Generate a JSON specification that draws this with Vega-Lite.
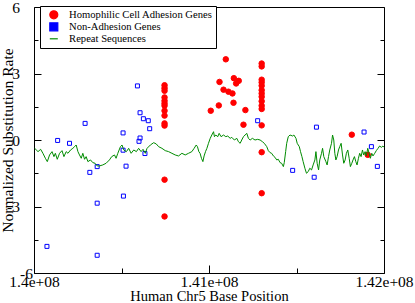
{
  "$schema": "https://vega.github.io/schema/vega-lite/v6.json",
  "autosize": "none",
  "width": 350,
  "height": 266,
  "padding": {"left": 34, "top": 7, "right": 31, "bottom": 30},
  "background": "white",
  "config": {
    "view": {"stroke": "black", "strokeWidth": 1},
    "font": "Liberation Serif"
  },
  "datasets": {
    "adhesion": [
      {"pos": 140746000, "rate": 2.47}, {"pos": 140746000, "rate": 2.34}, {"pos": 140746000, "rate": 2.22},
      {"pos": 140746000, "rate": 1.92}, {"pos": 140746000, "rate": 1.77}, {"pos": 140746000, "rate": 1.65},
      {"pos": 140746000, "rate": 1.55}, {"pos": 140746000, "rate": 1.32}, {"pos": 140746000, "rate": 1.1},
      {"pos": 140746000, "rate": 0.75}, {"pos": 140746000, "rate": 0.65}, {"pos": 140746000, "rate": -1.79},
      {"pos": 140746000, "rate": -3.45},
      {"pos": 141301000, "rate": 3.45}, {"pos": 141301000, "rate": 3.32}, {"pos": 141301000, "rate": 2.72},
      {"pos": 141301000, "rate": 2.6}, {"pos": 141301000, "rate": 2.45}, {"pos": 141301000, "rate": 2.25},
      {"pos": 141301000, "rate": 2.1}, {"pos": 141301000, "rate": 1.95}, {"pos": 141301000, "rate": 1.75},
      {"pos": 141301000, "rate": 1.55}, {"pos": 141301000, "rate": 1.4}, {"pos": 141301000, "rate": 0.66},
      {"pos": 141301000, "rate": -0.55}, {"pos": 141301000, "rate": -2.4},
      {"pos": 141010000, "rate": 1.32}, {"pos": 141056000, "rate": 1.56}, {"pos": 141060000, "rate": 2.62},
      {"pos": 141096000, "rate": 3.64}, {"pos": 141083000, "rate": 2.27}, {"pos": 141111000, "rate": 2.18},
      {"pos": 141134000, "rate": 2.1}, {"pos": 141140000, "rate": 1.68}, {"pos": 141142000, "rate": 2.79},
      {"pos": 141155000, "rate": 2.55}, {"pos": 141170000, "rate": 2.67}, {"pos": 141197000, "rate": 0.69},
      {"pos": 141208000, "rate": 1.35}, {"pos": 141816000, "rate": 0.24}, {"pos": 141907000, "rate": -0.67}
    ],
    "nonadhesion": [
      {"pos": 140074000, "rate": -4.8}, {"pos": 140135000, "rate": -0.02}, {"pos": 140203000, "rate": -0.15},
      {"pos": 140292000, "rate": 0.75}, {"pos": 140319000, "rate": -1.46}, {"pos": 140361000, "rate": -1.2},
      {"pos": 140361000, "rate": -2.85}, {"pos": 140361000, "rate": -5.2}, {"pos": 140509000, "rate": 0.32},
      {"pos": 140509000, "rate": -0.46}, {"pos": 140511000, "rate": -2.53}, {"pos": 140526000, "rate": -1.18},
      {"pos": 140591000, "rate": 2.44}, {"pos": 140600000, "rate": -0.06}, {"pos": 140606000, "rate": 1.23},
      {"pos": 140606000, "rate": 0.09}, {"pos": 140625000, "rate": 0.96}, {"pos": 140634000, "rate": -0.61},
      {"pos": 140653000, "rate": 0.87}, {"pos": 140661000, "rate": 0.51}, {"pos": 141278000, "rate": 0.87},
      {"pos": 141478000, "rate": -1.37}, {"pos": 141601000, "rate": -1.68}, {"pos": 141614000, "rate": 0.58},
      {"pos": 141886000, "rate": 0.36}, {"pos": 141928000, "rate": -0.3}, {"pos": 141962000, "rate": -1.19}
    ],
    "repeats": [
      {"pos": 140004000, "rate": -0.375}, {"pos": 140023000, "rate": -0.525}, {"pos": 140038000, "rate": -0.42},
      {"pos": 140051000, "rate": -0.6}, {"pos": 140065000, "rate": -0.825}, {"pos": 140076000, "rate": -0.975},
      {"pos": 140089000, "rate": -0.675}, {"pos": 140103000, "rate": -0.525}, {"pos": 140114000, "rate": -0.75},
      {"pos": 140122000, "rate": -0.6}, {"pos": 140133000, "rate": -0.87}, {"pos": 140146000, "rate": -0.6},
      {"pos": 140160000, "rate": -0.48}, {"pos": 140171000, "rate": -0.75}, {"pos": 140184000, "rate": -0.525},
      {"pos": 140194000, "rate": -0.6}, {"pos": 140209000, "rate": -0.45}, {"pos": 140222000, "rate": -0.375},
      {"pos": 140232000, "rate": -0.3}, {"pos": 140241000, "rate": -0.225}, {"pos": 140251000, "rate": -0.525},
      {"pos": 140260000, "rate": -0.675}, {"pos": 140270000, "rate": -0.825}, {"pos": 140279000, "rate": -0.6},
      {"pos": 140289000, "rate": -0.87}, {"pos": 140298000, "rate": -0.75}, {"pos": 140308000, "rate": -0.975},
      {"pos": 140323000, "rate": -0.9}, {"pos": 140336000, "rate": -1.02}, {"pos": 140349000, "rate": -1.05},
      {"pos": 140361000, "rate": -1.17}, {"pos": 140374000, "rate": -1.17}, {"pos": 140393000, "rate": -1.125},
      {"pos": 140412000, "rate": -1.05}, {"pos": 140431000, "rate": -0.9}, {"pos": 140444000, "rate": -0.75},
      {"pos": 140460000, "rate": -0.675}, {"pos": 140469000, "rate": -0.825}, {"pos": 140479000, "rate": -0.6},
      {"pos": 140494000, "rate": -0.3}, {"pos": 140503000, "rate": -0.225}, {"pos": 140513000, "rate": -0.45},
      {"pos": 140528000, "rate": -0.525}, {"pos": 140541000, "rate": -0.375}, {"pos": 140555000, "rate": -0.6},
      {"pos": 140570000, "rate": -0.45}, {"pos": 140585000, "rate": -0.525}, {"pos": 140598000, "rate": -0.375},
      {"pos": 140612000, "rate": -0.525}, {"pos": 140623000, "rate": -0.42}, {"pos": 140636000, "rate": -0.6},
      {"pos": 140646000, "rate": -0.375}, {"pos": 140665000, "rate": -0.225}, {"pos": 140684000, "rate": -0.12},
      {"pos": 140699000, "rate": -0.18}, {"pos": 140712000, "rate": -0.3}, {"pos": 140731000, "rate": -0.375},
      {"pos": 140750000, "rate": -0.48}, {"pos": 140769000, "rate": -0.525}, {"pos": 140788000, "rate": -0.6},
      {"pos": 140807000, "rate": -0.675}, {"pos": 140826000, "rate": -0.72}, {"pos": 140845000, "rate": -0.6},
      {"pos": 140864000, "rate": -0.675}, {"pos": 140883000, "rate": -0.6}, {"pos": 140902000, "rate": -0.525},
      {"pos": 140915000, "rate": -0.375}, {"pos": 140927000, "rate": -0.225}, {"pos": 140934000, "rate": -0.3},
      {"pos": 140942000, "rate": -0.525}, {"pos": 140949000, "rate": -0.6}, {"pos": 140957000, "rate": -0.825},
      {"pos": 140965000, "rate": -0.975}, {"pos": 140972000, "rate": -0.72}, {"pos": 140980000, "rate": -0.525},
      {"pos": 140988000, "rate": -0.375}, {"pos": 140997000, "rate": -0.15}, {"pos": 141007000, "rate": 0.075},
      {"pos": 141016000, "rate": 0.225}, {"pos": 141026000, "rate": 0.375}, {"pos": 141031000, "rate": 0.15},
      {"pos": 141039000, "rate": 0.225}, {"pos": 141050000, "rate": 0.15}, {"pos": 141058000, "rate": 0.3},
      {"pos": 141069000, "rate": 0.15}, {"pos": 141083000, "rate": 0.225}, {"pos": 141096000, "rate": 0.15},
      {"pos": 141107000, "rate": 0.18}, {"pos": 141121000, "rate": 0.075}, {"pos": 141130000, "rate": 0.12},
      {"pos": 141145000, "rate": 0.0}, {"pos": 141159000, "rate": 0.075}, {"pos": 141168000, "rate": -0.075},
      {"pos": 141178000, "rate": -0.15}, {"pos": 141187000, "rate": 0.0}, {"pos": 141197000, "rate": 0.15},
      {"pos": 141206000, "rate": 0.225}, {"pos": 141216000, "rate": 0.3}, {"pos": 141225000, "rate": 0.075},
      {"pos": 141235000, "rate": 0.0}, {"pos": 141248000, "rate": 0.075}, {"pos": 141263000, "rate": 0.0},
      {"pos": 141278000, "rate": 0.03}, {"pos": 141292000, "rate": 0.0}, {"pos": 141305000, "rate": -0.075},
      {"pos": 141316000, "rate": -0.15}, {"pos": 141330000, "rate": -0.3}, {"pos": 141339000, "rate": -0.48},
      {"pos": 141349000, "rate": -0.57}, {"pos": 141358000, "rate": -0.6}, {"pos": 141368000, "rate": -0.72},
      {"pos": 141377000, "rate": -0.78}, {"pos": 141387000, "rate": -0.9}, {"pos": 141396000, "rate": -0.87},
      {"pos": 141406000, "rate": -1.02}, {"pos": 141415000, "rate": -1.05}, {"pos": 141425000, "rate": -1.2},
      {"pos": 141430000, "rate": -1.02}, {"pos": 141438000, "rate": -0.525}, {"pos": 141444000, "rate": -0.15},
      {"pos": 141453000, "rate": 0.15}, {"pos": 141463000, "rate": 0.225}, {"pos": 141478000, "rate": 0.18},
      {"pos": 141485000, "rate": 0.225}, {"pos": 141497000, "rate": 0.075}, {"pos": 141504000, "rate": -0.15},
      {"pos": 141516000, "rate": -0.3}, {"pos": 141523000, "rate": -0.525}, {"pos": 141531000, "rate": -0.75},
      {"pos": 141538000, "rate": -0.975}, {"pos": 141548000, "rate": -1.275}, {"pos": 141557000, "rate": -1.5},
      {"pos": 141567000, "rate": -1.425}, {"pos": 141576000, "rate": -1.275}, {"pos": 141586000, "rate": -1.35},
      {"pos": 141595000, "rate": -1.125}, {"pos": 141605000, "rate": -0.9}, {"pos": 141611000, "rate": -0.525},
      {"pos": 141618000, "rate": -1.05}, {"pos": 141626000, "rate": -1.35}, {"pos": 141633000, "rate": -0.9},
      {"pos": 141643000, "rate": -0.6}, {"pos": 141649000, "rate": -0.375}, {"pos": 141656000, "rate": -0.75},
      {"pos": 141668000, "rate": -0.975}, {"pos": 141675000, "rate": -1.125}, {"pos": 141683000, "rate": -0.75},
      {"pos": 141690000, "rate": -0.45}, {"pos": 141700000, "rate": -0.15}, {"pos": 141706000, "rate": 0.225},
      {"pos": 141713000, "rate": 0.0}, {"pos": 141719000, "rate": -0.6}, {"pos": 141725000, "rate": -0.9},
      {"pos": 141732000, "rate": -0.75}, {"pos": 141740000, "rate": -0.45}, {"pos": 141747000, "rate": -0.3},
      {"pos": 141755000, "rate": -0.15}, {"pos": 141763000, "rate": -0.675}, {"pos": 141770000, "rate": -1.05},
      {"pos": 141778000, "rate": -0.9}, {"pos": 141785000, "rate": -0.6}, {"pos": 141793000, "rate": -0.45},
      {"pos": 141801000, "rate": -0.825}, {"pos": 141808000, "rate": -1.2}, {"pos": 141816000, "rate": -1.05},
      {"pos": 141823000, "rate": -0.9}, {"pos": 141831000, "rate": -0.75}, {"pos": 141839000, "rate": -0.975},
      {"pos": 141846000, "rate": -1.125}, {"pos": 141854000, "rate": -0.825}, {"pos": 141861000, "rate": -0.6},
      {"pos": 141869000, "rate": -0.75}, {"pos": 141877000, "rate": -0.45}, {"pos": 141884000, "rate": -0.675},
      {"pos": 141892000, "rate": -0.525}, {"pos": 141899000, "rate": -0.72}, {"pos": 141907000, "rate": -0.375},
      {"pos": 141915000, "rate": -0.6}, {"pos": 141922000, "rate": -0.825}, {"pos": 141930000, "rate": -0.6},
      {"pos": 141937000, "rate": -0.72}, {"pos": 141947000, "rate": -0.6}, {"pos": 141956000, "rate": -0.48},
      {"pos": 141966000, "rate": -0.375}, {"pos": 141975000, "rate": -0.27}, {"pos": 141985000, "rate": -0.33},
      {"pos": 141994000, "rate": -0.27}, {"pos": 142000000, "rate": -0.33}
    ]
  },
  "resolve": {"scale": {"x": "shared", "y": "shared"}, "axis": {"y": "independent"}},
  "layer": [
    {
      "data": {"name": "adhesion"},
      "mark": {"type": "point", "filled": true, "size": 30, "strokeWidth": 1, "opacity": 1},
      "encoding": {
        "x": {
          "field": "pos", "type": "quantitative",
          "scale": {"domain": [140000000, 142000000], "nice": false, "zero": false},
          "axis": {
            "values": [140000000, 140500000, 141000000, 141500000, 142000000],
            "labelExpr": "datum.value % 1000000 == 0 ? replace(format(datum.value, '.3~e'), 'e+8', 'e+08') : ''",
            "tickSize": -8,
            "tickDash": {"condition": {"test": "datum.value % 1000000 != 0", "value": [5, 20]}, "value": []},
            "tickColor": "black", "tickWidth": 1, "domain": false, "grid": false,
            "labelFont": "Liberation Serif", "labelFontSize": 15.5, "labelColor": "black",
            "labelPadding": 9, "labelFlush": false, "labelOverlap": false, "labelBound": false,
            "title": "Human Chr5 Base Position", "titleFont": "Liberation Serif", "titleFontSize": 14.5,
            "titleFontWeight": "normal", "titleColor": "black", "titlePadding": 0
          }
        },
        "y": {
          "field": "rate", "type": "quantitative",
          "scale": {"domain": [-6, 6], "nice": false, "zero": false},
          "axis": {
            "orient": "left",
            "values": [-6, -4.5, -3, -1.5, 0, 1.5, 3, 4.5, 6],
            "labelExpr": "datum.value == -6 ? '  -6' : datum.value % 3 == 0 ? toString(datum.value) : ''",
            "tickSize": -7,
            "tickDash": {"condition": {"test": "datum.value % 3 != 0", "value": [4, 20]}, "value": []},
            "tickColor": "black", "tickWidth": 1, "domain": false, "grid": false,
            "labelFont": "Liberation Serif", "labelFontSize": 15.5, "labelColor": "black",
            "labelPadding": 21.5,
            "labelAlign": {"condition": {"test": "datum.value == -6", "value": "left"}, "value": "right"},
            "labelFlush": false, "labelOverlap": false, "labelBound": false,
            "title": "Normalized Substitution Rate", "titleFont": "Liberation Serif", "titleFontSize": 15.5,
            "titleFontWeight": "normal", "titleColor": "black",
            "titleX": -22, "titleBaseline": "alphabetic"
          }
        },
        "fill": {
          "datum": "Homophilic Cell Adhesion Genes",
          "type": "nominal",
          "scale": {
            "domain": ["Homophilic Cell Adhesion Genes", "Non-Adhesion Genes", "Repeat Sequences"],
            "range": ["#ff0000", "#0000ff", "#008b00"]
          },
          "legend": {
            "orient": "none", "legendX": 6, "legendY": -1, "title": null,
            "strokeColor": "black", "fillColor": "white", "cornerRadius": 0,
            "padding": 3.5, "labelFont": "Liberation Serif", "labelFontSize": 10.6, "labelColor": "black",
            "labelOffset": 10, "rowPadding": -2, "symbolSize": 64, "symbolOffset": 5, "symbolStrokeWidth": 1.2
          }
        },
        "stroke": {
          "datum": "Homophilic Cell Adhesion Genes",
          "type": "nominal",
          "scale": {
            "domain": ["Homophilic Cell Adhesion Genes", "Non-Adhesion Genes", "Repeat Sequences"],
            "range": ["#ff0000", "#0000ff", "#008b00"]
          },
          "legend": {
            "orient": "none", "legendX": 6, "legendY": -1, "title": null,
            "strokeColor": "black", "fillColor": "white", "cornerRadius": 0,
            "padding": 3.5, "labelFont": "Liberation Serif", "labelFontSize": 10.6, "labelColor": "black",
            "labelOffset": 10, "rowPadding": -2, "symbolSize": 64, "symbolOffset": 5, "symbolStrokeWidth": 1.2
          }
        },
        "shape": {
          "datum": "Homophilic Cell Adhesion Genes",
          "type": "nominal",
          "scale": {
            "domain": ["Homophilic Cell Adhesion Genes", "Non-Adhesion Genes", "Repeat Sequences"],
            "range": ["circle", "square", "stroke"]
          },
          "legend": {
            "orient": "none", "legendX": 6, "legendY": -1, "title": null,
            "strokeColor": "black", "fillColor": "white", "cornerRadius": 0,
            "padding": 3.5, "labelFont": "Liberation Serif", "labelFontSize": 10.6, "labelColor": "black",
            "labelOffset": 10, "rowPadding": -2, "symbolSize": 64, "symbolOffset": 5, "symbolStrokeWidth": 1.2
          }
        }
      }
    },
    {
      "data": {"name": "nonadhesion"},
      "mark": {"type": "point", "shape": "square", "filled": false, "color": "#0000ff", "size": 16, "strokeWidth": 1, "opacity": 1},
      "encoding": {
        "x": {"field": "pos", "type": "quantitative"},
        "y": {"field": "rate", "type": "quantitative", "axis": null}
      }
    },
    {
      "data": {"name": "repeats"},
      "mark": {"type": "line", "color": "#008b00", "strokeWidth": 1},
      "encoding": {
        "x": {"field": "pos", "type": "quantitative"},
        "y": {
          "field": "rate", "type": "quantitative",
          "axis": {
            "orient": "right",
            "values": [-6, -4.5, -3, -1.5, 0, 1.5, 3, 4.5, 6],
            "labels": false, "title": null, "domain": false, "grid": false,
            "tickSize": -7,
            "tickDash": {"condition": {"test": "datum.value % 3 != 0", "value": [4, 20]}, "value": []},
            "tickColor": "black", "tickWidth": 1
          }
        }
      }
    }
  ]
}
